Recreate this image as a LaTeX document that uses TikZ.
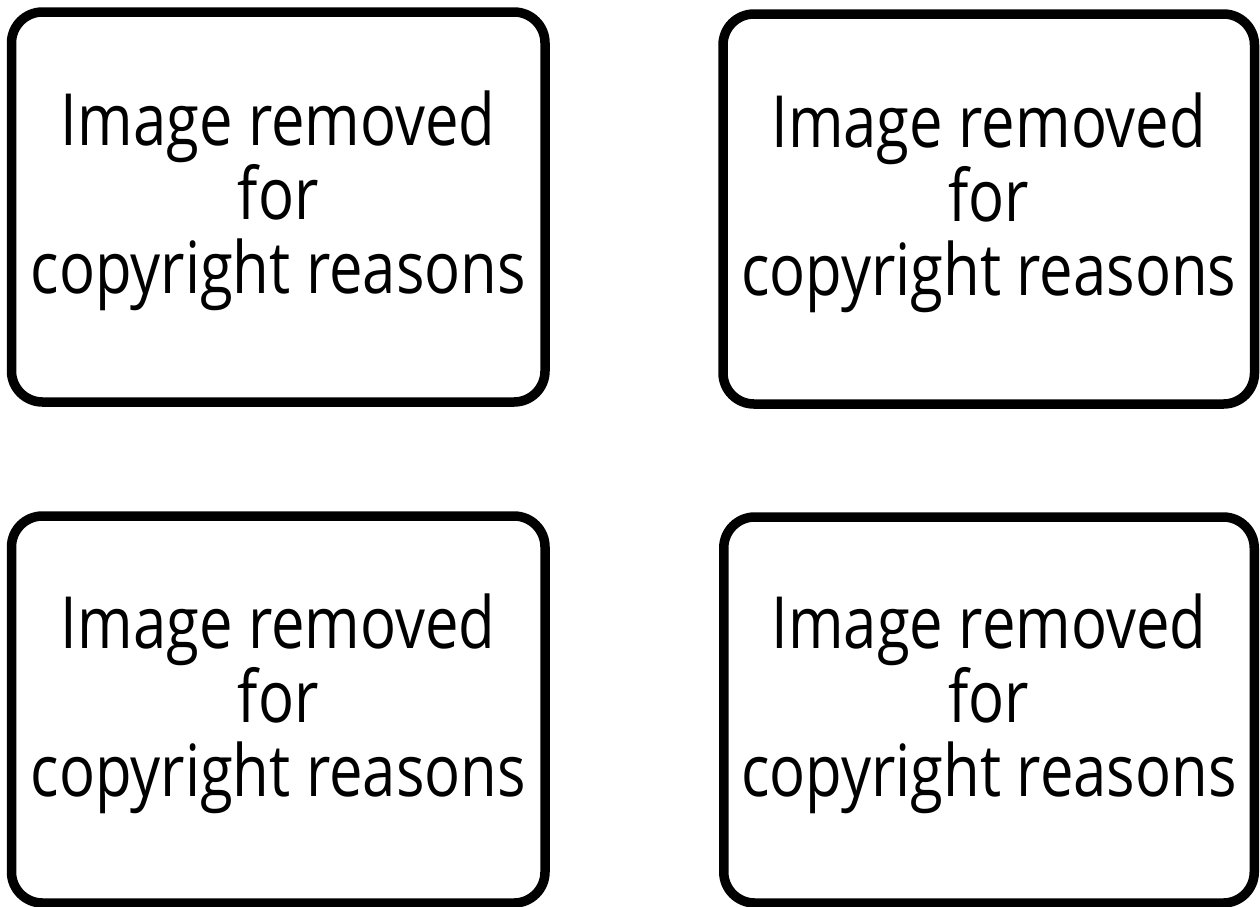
\documentclass[tikz,border=0pt]{standalone}
\usepackage{fontspec}
\setmainfont{Open Sans}[FakeStretch=0.83]
\begin{document}
\begin{tikzpicture}[x=1pt,y=-1pt,
  removedbox/.style={draw=black, line width=9.5pt, rounded corners=31pt,
    inner sep=0pt},
  boxtext/.style={align=center, inner sep=0pt,
    font=\fontsize{72}{74}\selectfont},
]
\useasboundingbox (0,0) rectangle (1260,906);
\node[removedbox, minimum width=533.5pt, minimum height=390pt] (tl) at (278.25,207) {};
\node[removedbox, minimum width=531.5pt, minimum height=390pt] (tr) at (988.75,209) {};
\node[removedbox, minimum width=533.5pt, minimum height=387pt] (bl) at (278.25,709.5) {};
\node[removedbox, minimum width=530.5pt, minimum height=386pt] (br) at (989,710) {};
\node[boxtext] (tltext) at ([yshift=6pt]tl.center) {Image removed\\for\\copyright reasons};
\node[boxtext] (trtext) at ([yshift=6pt]tr.center) {Image removed\\for\\copyright reasons};
\node[boxtext] (bltext) at ([yshift=6pt]bl.center) {Image removed\\for\\copyright reasons};
\node[boxtext] (brtext) at ([yshift=6pt]br.center) {Image removed\\for\\copyright reasons};
\end{tikzpicture}
\end{document}
